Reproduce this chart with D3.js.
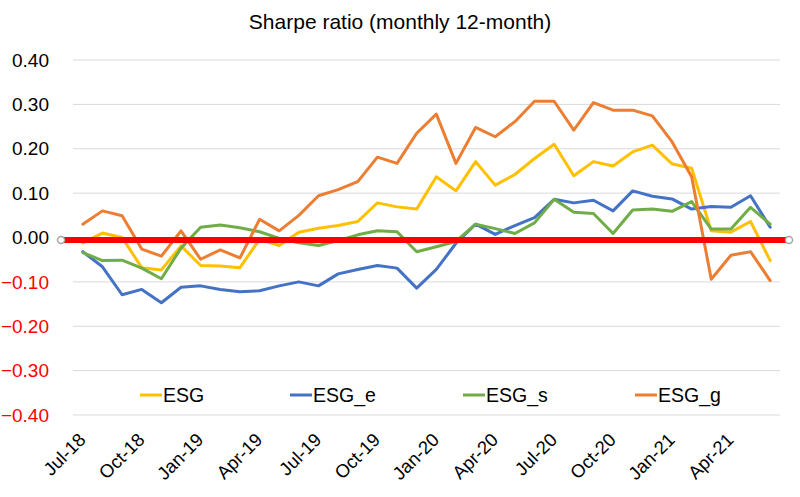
<!DOCTYPE html>
<html><head><meta charset="utf-8">
<script src="https://cdn.jsdelivr.net/npm/d3@7"></script>
<style>body{margin:0;background:#fff;} text{font-family:"Liberation Sans",Arial,sans-serif;}</style>
</head><body><svg id="c" width="800" height="497"></svg>
<script>
const months = ["Jul-18","Aug-18","Sep-18","Oct-18","Nov-18","Dec-18","Jan-19","Feb-19","Mar-19","Apr-19","May-19","Jun-19",
"Jul-19","Aug-19","Sep-19","Oct-19","Nov-19","Dec-19","Jan-20","Feb-20","Mar-20","Apr-20","May-20","Jun-20",
"Jul-20","Aug-20","Sep-20","Oct-20","Nov-20","Dec-20","Jan-21","Feb-21","Mar-21","Apr-21","May-21","Jun-21"];
const tickLabels = ["Jul-18","Oct-18","Jan-19","Apr-19","Jul-19","Oct-19","Jan-20","Apr-20","Jul-20","Oct-20","Jan-21","Apr-21"];
const esg  = [-0.012,0.010,0.000,-0.068,-0.073,-0.019,-0.063,-0.064,-0.068,-0.004,-0.018,0.012,0.021,0.027,0.036,0.078,0.069,0.064,0.137,0.105,0.171,0.118,0.142,0.178,0.210,0.139,0.171,0.161,0.193,0.208,0.166,0.156,0.015,0.012,0.036,-0.052];
const esgE = [-0.032,-0.066,-0.129,-0.117,-0.147,-0.112,-0.109,-0.117,-0.122,-0.120,-0.109,-0.100,-0.109,-0.082,-0.072,-0.063,-0.069,-0.114,-0.072,-0.013,0.030,0.007,0.027,0.045,0.086,0.078,0.084,0.060,0.105,0.093,0.087,0.064,0.070,0.068,0.094,0.023];
const esgS = [-0.034,-0.052,-0.051,-0.069,-0.093,-0.024,0.023,0.028,0.022,0.013,-0.002,-0.012,-0.018,-0.007,0.006,0.015,0.013,-0.032,-0.021,-0.009,0.030,0.020,0.009,0.033,0.086,0.057,0.054,0.009,0.062,0.064,0.059,0.081,0.019,0.019,0.068,0.030];
const esgG = [0.030,0.060,0.049,-0.026,-0.042,0.015,-0.049,-0.028,-0.046,0.041,0.015,0.050,0.094,0.108,0.126,0.181,0.167,0.235,0.278,0.167,0.248,0.227,0.261,0.307,0.307,0.242,0.304,0.287,0.287,0.274,0.216,0.137,-0.094,-0.040,-0.032,-0.097];
const yTicks = [0.40,0.30,0.20,0.10,0.00,-0.10,-0.20,-0.30,-0.40];
const seriesNames = ["ESG","ESG_e","ESG_s","ESG_g"];
const seriesColors = ["#FFC000","#4472C4","#70AD47","#ED7D31"];
const seriesData = [esg, esgE, esgS, esgG];

const svg = d3.select("#c");
const L = 73, R = 780, T = 60, B = 415;
const x = d3.scaleBand().domain(months).range([L, R]);
const xc = m => x(m) + x.bandwidth()/2;
const y = d3.scaleLinear().domain([-0.4, 0.4]).range([B, T]);

// gridlines
svg.append("g").selectAll("line").data(yTicks).join("line")
  .attr("x1", L).attr("x2", R).attr("y1", d => y(d)).attr("y2", d => y(d))
  .attr("stroke", "#D9D9D9").attr("stroke-width", 1);

// y labels
svg.append("g").selectAll("text").data(yTicks).join("text")
  .attr("x", 49).attr("y", d => y(d)).attr("dy", "0.35em")
  .attr("text-anchor", "end").attr("font-size", 19)
  .attr("fill", d => d < 0 ? "#FF0000" : "#000")
  .text(d => d3.format(".2f")(d));

// x labels
svg.append("g").selectAll("text").data(tickLabels).join("text")
  .attr("text-anchor", "end").attr("font-size", 18.5).attr("fill", "#000")
  .attr("transform", d => `translate(${xc(d) + 4},${B + 26}) rotate(-45)`)
  .text(d => d);

// lines
const line = d3.line().x((d, i) => xc(months[i])).y(d => y(d));
seriesData.forEach((s, k) => {
  svg.append("path").datum(s).attr("d", line).attr("fill", "none")
    .attr("stroke", seriesColors[k]).attr("stroke-width", 3)
    .attr("stroke-linejoin", "round").attr("stroke-linecap", "round");
});

// red zero line
const zx1 = L - 12, zx2 = R + 9;
svg.append("line").attr("x1", zx1).attr("x2", zx2).attr("y1", y(0) + 2.5).attr("y2", y(0) + 2.5)
  .attr("stroke", "#FF0000").attr("stroke-width", 6);
[zx1, zx2].forEach(px => svg.append("circle").attr("cx", px).attr("cy", y(0) + 2.5).attr("r", 3.5)
  .attr("fill", "#fff").attr("stroke", "#A6A6A6").attr("stroke-width", 1.5));

// legend
const legX = [140, 290, 463, 635];
const lg = svg.append("g").selectAll("g").data(seriesNames).join("g")
  .attr("transform", (d, i) => `translate(${legX[i]},395)`);
lg.append("line").attr("x1", 0).attr("x2", 22).attr("y1", 0).attr("y2", 0)
  .attr("stroke", (d, i) => seriesColors[i]).attr("stroke-width", 3);
lg.append("text").attr("x", 23).attr("y", 0).attr("dy", "0.35em").attr("font-size", 19.5).text(d => d);

// title
svg.append("text").attr("x", 400).attr("y", 29).attr("text-anchor", "middle")
  .attr("font-size", 21).text("Sharpe ratio (monthly 12-month)");
</script></body></html>
